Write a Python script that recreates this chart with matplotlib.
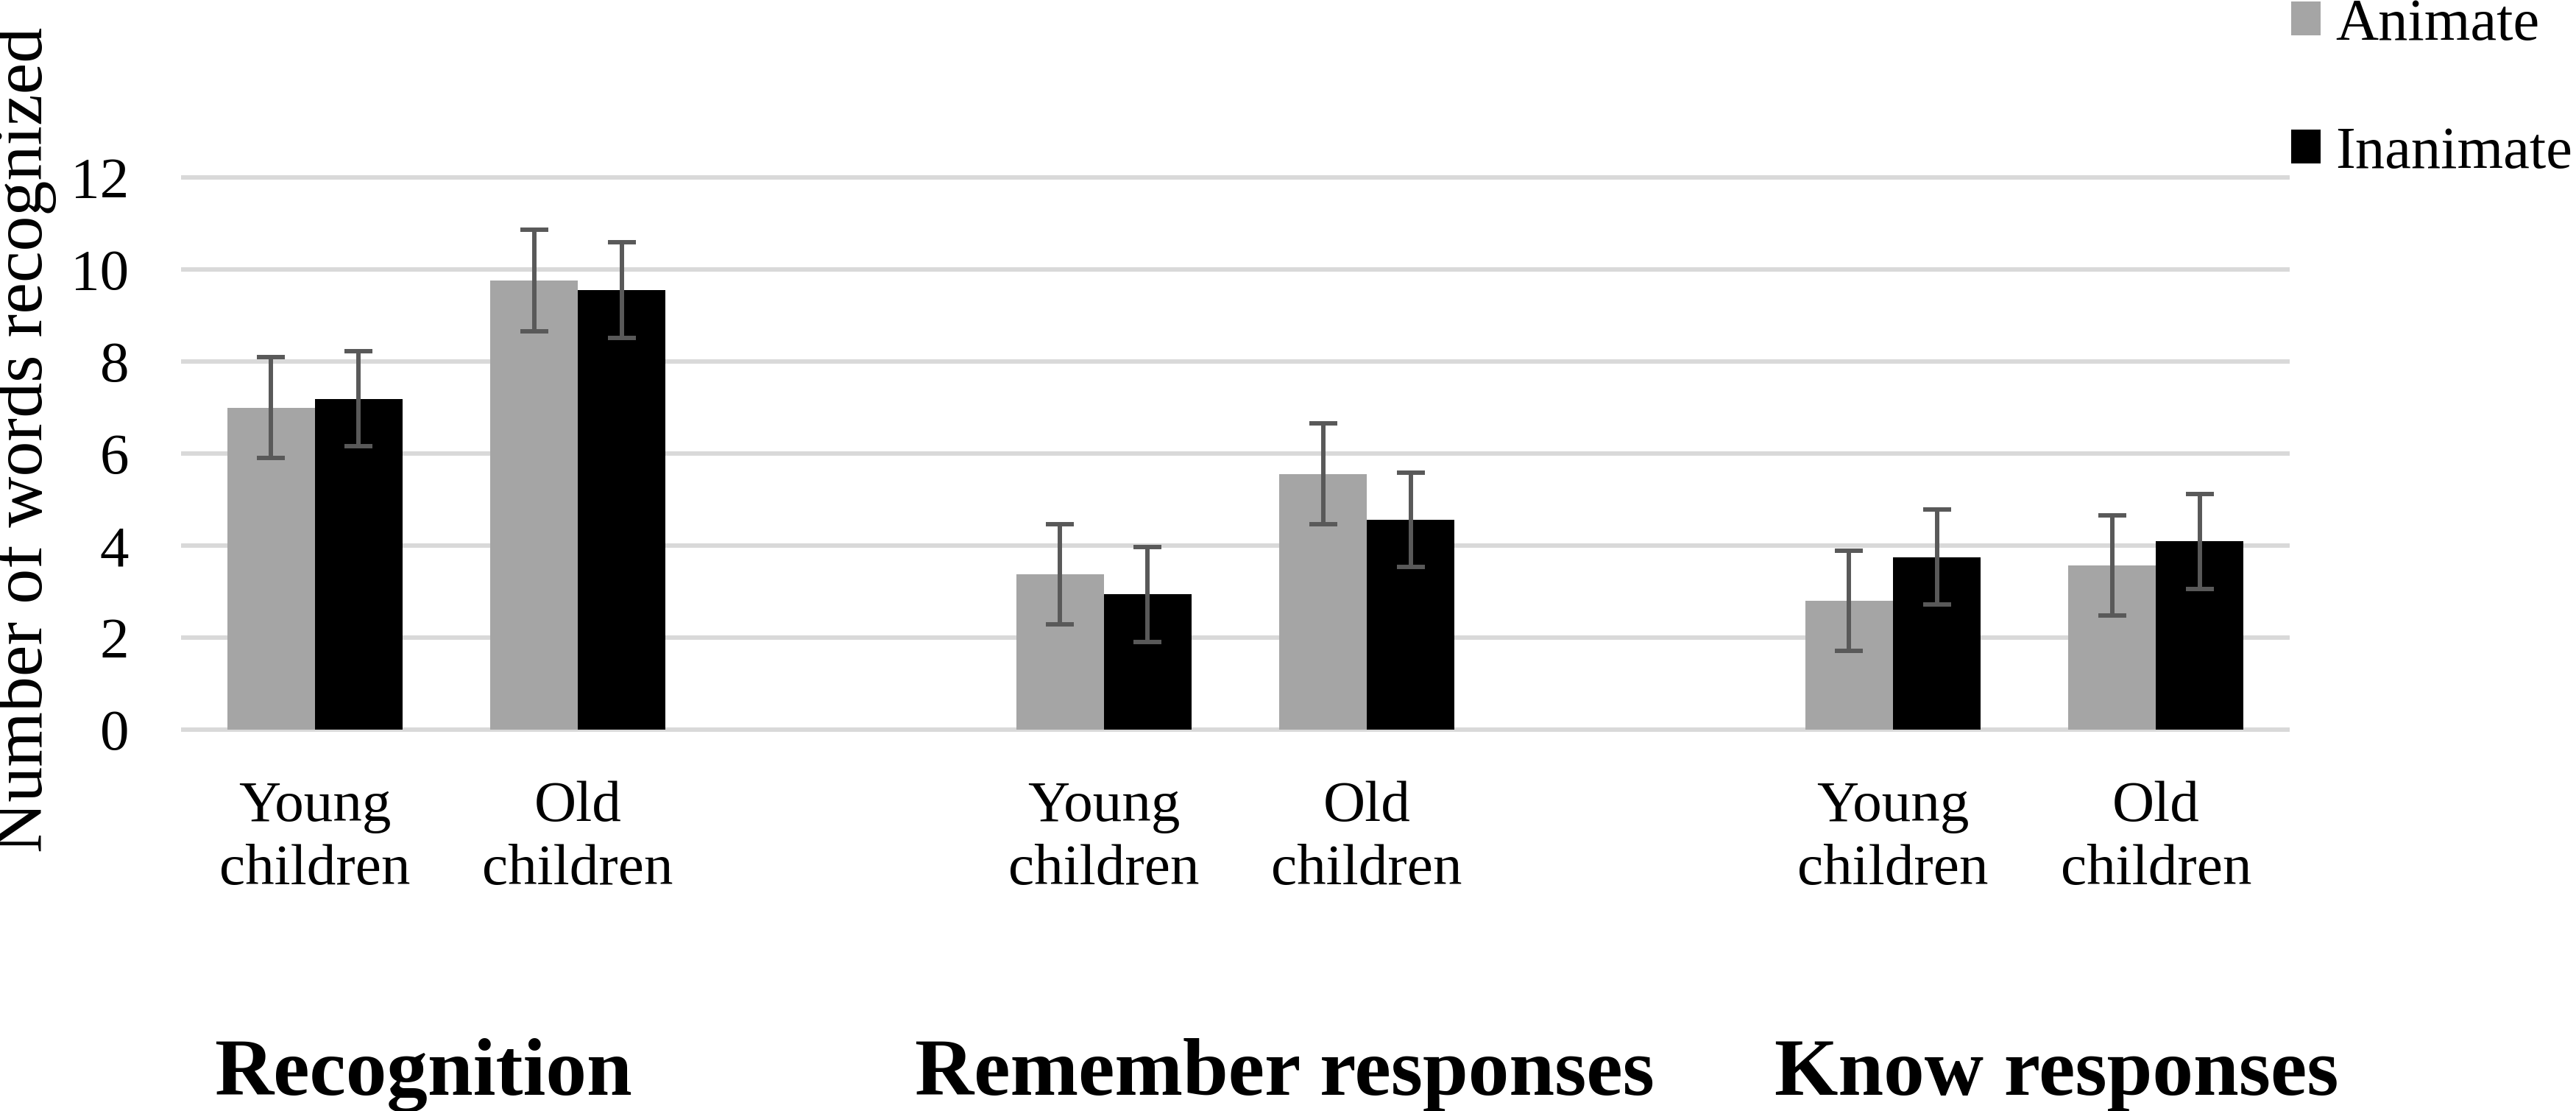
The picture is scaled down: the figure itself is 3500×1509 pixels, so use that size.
import matplotlib
matplotlib.use("Agg")
import matplotlib.pyplot as plt
from matplotlib.patches import Patch
import numpy as np

plt.rcParams['font.family'] = ['Liberation Serif', 'DejaVu Serif']

# ---- data ----
groups = ["Recognition", "Remember responses", "Know responses"]
subgroups = ["Young\nchildren", "Old\nchildren"]
series = ["Animate", "Inanimate"]
animate = [7.00, 9.76, 3.38, 5.56, 2.80, 3.57]
inanimate = [7.19, 9.56, 2.94, 4.56, 3.75, 4.09]
animate_err = [1.09, 1.10, 1.09, 1.09, 1.09, 1.09]
inanimate_err = [1.03, 1.04, 1.03, 1.03, 1.03, 1.03]
yticks = [0, 2, 4, 6, 8, 10, 12]
ylabel = "Number of words recognized"

colors = ["#a5a5a5", "#000000"]
err_color = "#595959"

W, H = 3500, 1509
fig = plt.figure(figsize=(W / 100, H / 100), dpi=100)
ax_l, ax_r, ax_t, ax_b = 249, 3108, 241, 991
ax = fig.add_axes([ax_l / W, 1 - ax_b / H, (ax_r - ax_l) / W, (ax_b - ax_t) / H])

# positions: 3 slots per group (two categories + one empty slot)
pos = np.array([3 * g + s for g in range(len(groups)) for s in range(len(subgroups))], dtype=float)
labels = [subgroups[s] for g in range(len(groups)) for s in range(len(subgroups))]
bw = 1 / 3

for vals, errs, off, col, name in [(animate, animate_err, -bw / 2, colors[0], series[0]),
                                   (inanimate, inanimate_err, bw / 2, colors[1], series[1])]:
    ax.bar(pos + off, vals, width=bw, color=col, zorder=2, label=name)
    ax.errorbar(pos + off, vals, yerr=errs, fmt='none', ecolor=err_color,
                elinewidth=4.3, capsize=13.7, capthick=4.3, zorder=3)

ax.set_xlim(-0.5, 7.5)
ax.set_ylim(0, 12)
ax.set_yticks(yticks)
ax.set_yticklabels([str(t) for t in yticks])
ax.set_xticks(pos)
ax.set_xticklabels(labels)
ax.tick_params(axis='y', length=0, pad=53, labelsize=57)
ax.tick_params(axis='x', length=0, pad=50, labelsize=57)
for lab in ax.get_xticklabels():
    lab.set_linespacing(1.27)
for s in ax.spines.values():
    s.set_visible(False)
ax.yaxis.grid(True, color='#d9d9d9', linewidth=4.3, zorder=0)
ax.set_axisbelow(True)
for gl in ax.yaxis.get_gridlines():
    gl.set_clip_on(False)

fig.text(34 / W, 1 - 597 / H, ylabel, rotation=90, ha='center', va='center', fontsize=69)

group_x = [575, 1745, 2794]
for gx, gname in zip(group_x, groups):
    fig.text(gx / W, 1 - 1487 / H, gname, ha='center', va='baseline',
             fontsize=80, fontweight='bold')

handles = [Patch(facecolor=colors[0]), Patch(facecolor=colors[1])]
fig.legend(handles, series, loc='upper left', bbox_to_anchor=(3113 / W, 1 + 2 / H),
           frameon=False, fontsize=58, handlelength=0.5, handleheight=0.5,
           handletextpad=0.25, labelspacing=1.25, borderpad=0, borderaxespad=0)

fig.savefig("out.png", dpi=100)
